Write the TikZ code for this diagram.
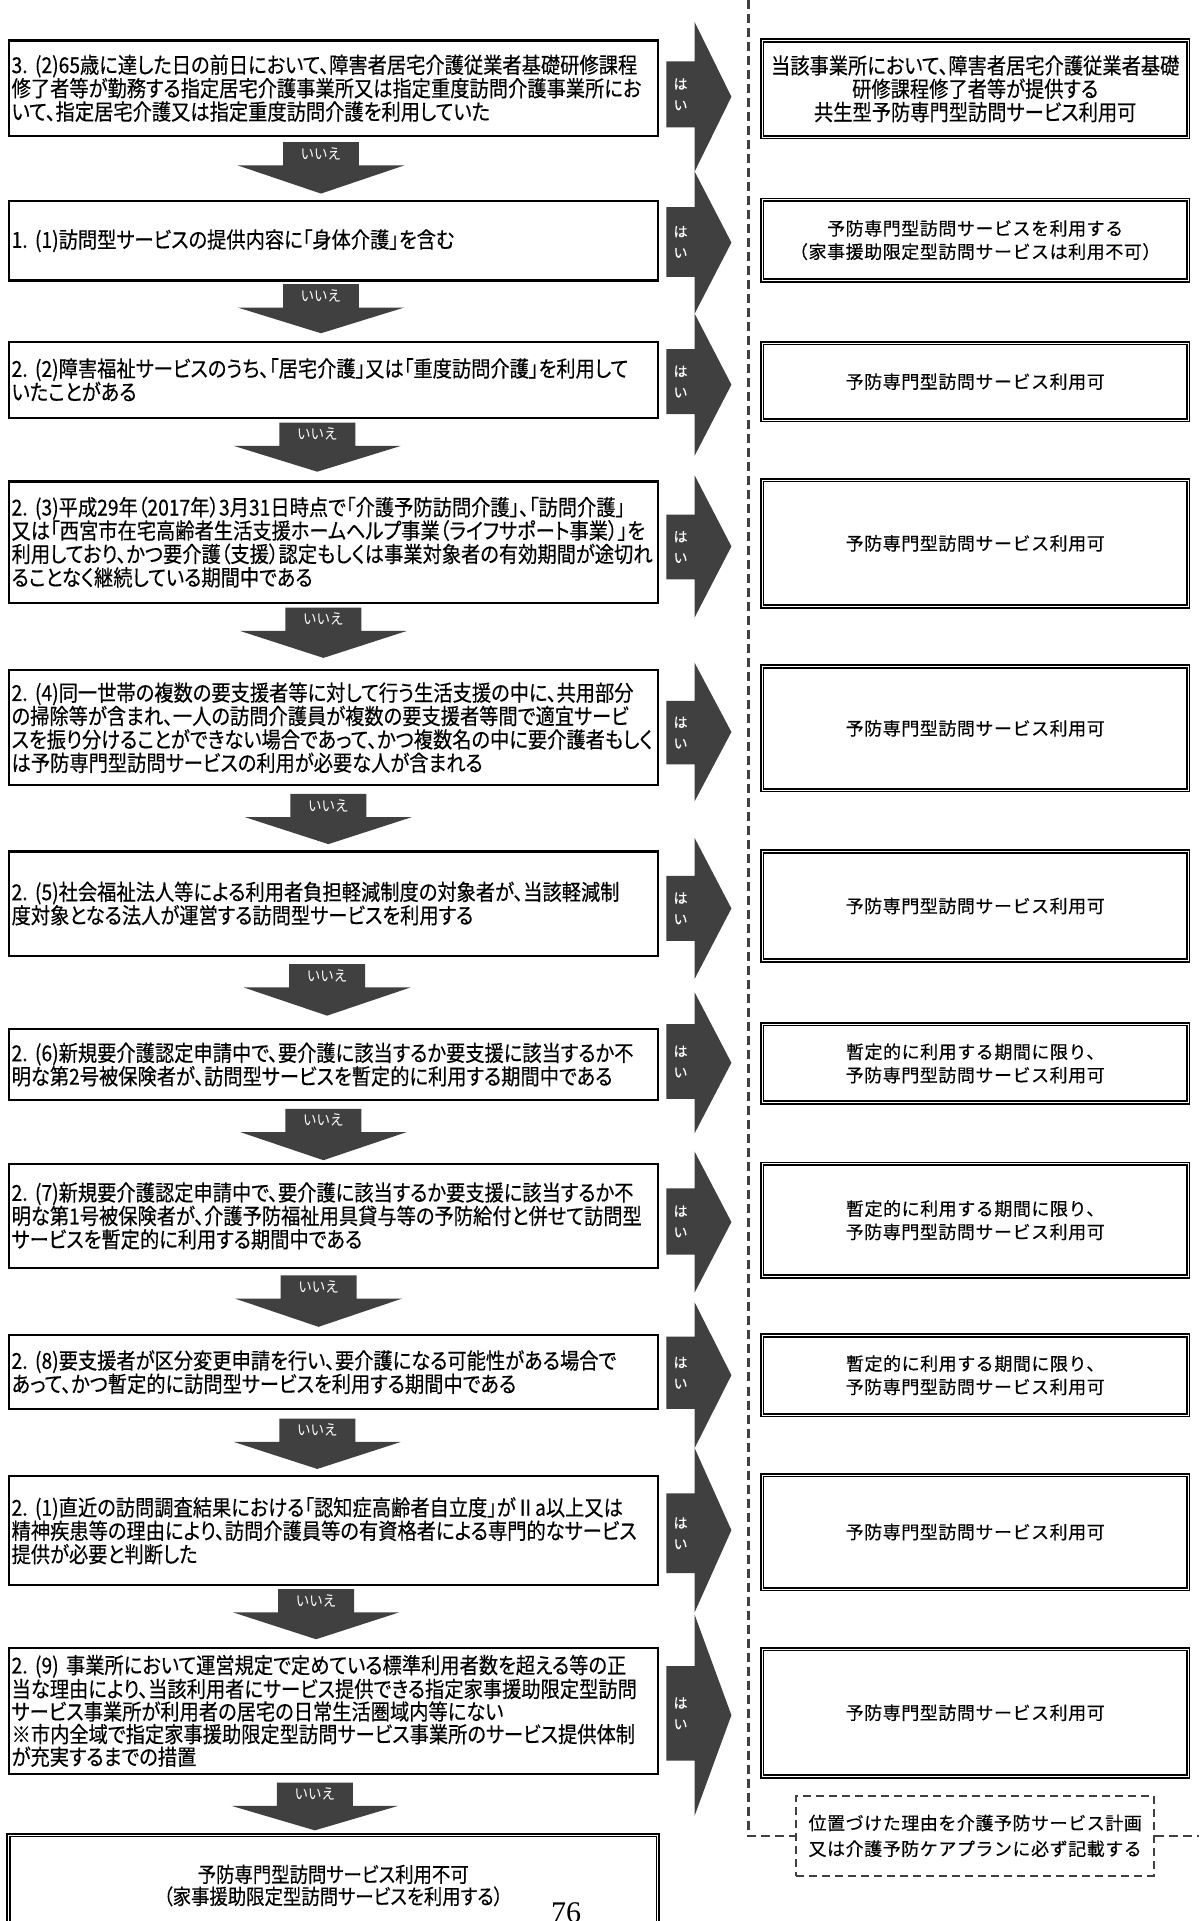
\documentclass[tikz,border=0pt]{standalone}
\usepackage{fontspec}
\newfontfamily\jpc[FakeStretch=0.875,FakeBold=0.35,RawFeature=+palt]{Noto Sans CJK JP}
\newfontfamily\jpg[LetterSpace=3,FakeBold=0.3]{Noto Sans CJK JP}
\newfontfamily\jpn[FakeStretch=0.9]{Noto Sans CJK JP}
\newfontfamily\numserif{Liberation Serif}
\definecolor{agray}{RGB}{64,64,64}
\tikzset{
  qbox/.style={draw=black, line width=2.2pt, fill=white, inner xsep=3pt, inner ysep=0pt,
    minimum width=649pt, text width=643pt, align=left,
    font=\jpc\fontsize{22pt}{23.4pt}\selectfont},
  rbox/.style={draw=black, line width=1.7pt, double=white, double distance=1pt, fill=white,
    inner sep=0pt, minimum width=426pt, text width=420pt, align=center,
    font=\jpg\fontsize{18pt}{23.3pt}\selectfont},
  endbox/.style={draw=black, line width=1.7pt, double=white, double distance=1pt, fill=white,
    inner sep=0pt, minimum width=649pt, text width=640pt, align=center,
    font=\jpc\fontsize{21pt}{22pt}\selectfont},
  notebox/.style={draw=agray, line width=2pt, dash pattern=on 8pt off 5pt, fill=white,
    inner sep=0pt, minimum width=357.6pt, minimum height=79.6pt, text width=350pt, align=center,
    font=\jpg\fontsize{18pt}{25.7pt}\selectfont},
  hailabel/.style={text=white, inner sep=0pt, align=center, font=\jpg\fontsize{14pt}{21pt}\selectfont},
  iielabel/.style={text=white, inner sep=0pt, font=\jpn\fontsize{15pt}{15pt}\selectfont},
  dline/.style={draw=agray, line width=2.4pt, dash pattern=on 9pt off 5pt},
}
% #1 name, #2 head top, #3 head bottom, #4 tab top, #5 tab bottom
\newcommand\haiarrow[5]{%
  \fill[agray] (544,#4) -- (567,#4) -- (567,#2) -- (597,{(#2+#3)/2}) -- (567,#3)
     -- (567,#5) -- (544,#5) -- cycle;
  \node[hailabel] (#1) at (555.5,{(#4+#5)/2}) {は\\い};}
% #1 name, #2 centre x, #3 top, #4 tip
\newcommand\iiearrow[4]{%
  \fill[agray] (#2-31,#3) -- (#2+31,#3) -- (#2+31,#3+19) -- (#2+68,#3+19) -- (#2,#4)
     -- (#2-68,#3+19) -- (#2-31,#3+19) -- cycle;
  \node[iielabel] (#1) at (#2,#3+9.5) {いいえ};}
\begin{document}
\begin{tikzpicture}[x=1.2247pt, y=-1.2247pt]
\useasboundingbox (0,0) rectangle (979,1568);
\fill[white] (0,0) rectangle (979,1568);

% ---------- question boxes (left) ----------
\node[qbox, minimum height=95.5pt] (q1) at (272,72) {3.~(2)65歳に達した日の前日において、障害者居宅介護従業者基礎研修課程\\修了者等が勤務する指定居宅介護事業所又は指定重度訪問介護事業所にお\\いて、指定居宅介護又は指定重度訪問介護を利用していた};
\node[qbox, minimum height=79.6pt] (q2) at (272,196.5) {1.~(1)訪問型サービスの提供内容に「身体介護」を含む};
\node[qbox, minimum height=75.9pt] (q3) at (272,310) {2.~(2)障害福祉サービスのうち、「居宅介護」又は「重度訪問介護」を利用して\\いたことがある};
\node[qbox, minimum height=121.2pt] (q4) at (272,442.5) {2.~(3)平成29年（2017年）3月31日時点で「介護予防訪問介護」、「訪問介護」\\又は「西宮市在宅高齢者生活支援ホームヘルプ事業（ライフサポート事業）」を\\利用しており、かつ要介護（支援）認定もしくは事業対象者の有効期間が途切れ\\ることなく継続している期間中である};
\node[qbox, minimum height=115.1pt] (q5) at (272,594) {2.~(4)同一世帯の複数の要支援者等に対して行う生活支援の中に、共用部分\\の掃除等が含まれ、一人の訪問介護員が複数の要支援者等間で適宜サービ\\スを振り分けることができない場合であって、かつ複数名の中に要介護者もしく\\は予防専門型訪問サービスの利用が必要な人が含まれる};
\node[qbox, minimum height=104.1pt] (q6) at (272,737.5) {2.~(5)社会福祉法人等による利用者負担軽減制度の対象者が、当該軽減制\\度対象となる法人が運営する訪問型サービスを利用する};
\node[qbox, minimum height=71pt] (q7) at (272,869) {2.~(6)新規要介護認定申請中で、要介護に該当するか要支援に該当するか不\\明な第2号被保険者が、訪問型サービスを暫定的に利用する期間中である};
\node[qbox, minimum height=104.1pt] (q8) at (272,992.5) {2.~(7)新規要介護認定申請中で、要介護に該当するか要支援に該当するか不\\明な第1号被保険者が、介護予防福祉用具貸与等の予防給付と併せて訪問型\\サービスを暫定的に利用する期間中である};
\node[qbox, minimum height=73.5pt] (q9) at (272,1120) {2.~(8)要支援者が区分変更申請を行い、要介護になる可能性がある場合で\\あって、かつ暫定的に訪問型サービスを利用する期間中である};
\node[qbox, minimum height=109pt] (q10) at (272,1249.5) {2.~(1)直近の訪問調査結果における「認知症高齢者自立度」がⅡa以上又は\\精神疾患等の理由により、訪問介護員等の有資格者による専門的なサービス\\提供が必要と判断した};
\node[qbox, minimum height=126.1pt, font=\jpc\fontsize{22pt}{22.6pt}\selectfont] (q11) at (272,1396.5) {2.~(9)~事業所において運営規定で定めている標準利用者数を超える等の正\\当な理由により、当該利用者にサービス提供できる指定家事援助限定型訪問\\サービス事業所が利用者の居宅の日常生活圏域内等にない\\※市内全域で指定家事援助限定型訪問サービス事業所のサービス提供体制\\が充実するまでの措置};
\node[endbox, minimum height=100.4pt] (q12) at (272,1539) {予防専門型訪問サービス利用不可\\（家事援助限定型訪問サービスを利用する）};
\node[font=\numserif\fontsize{30pt}{30pt}\selectfont, inner sep=0pt, anchor=north] (pageno) at (462,1553) {76};

% ---------- result boxes (right) ----------
\node[rbox, minimum height=96.8pt, font=\jpc\fontsize{22pt}{23.3pt}\selectfont] (r1) at (796,72.5) {当該事業所において、障害者居宅介護従業者基礎\\研修課程修了者等が提供する\\共生型予防専門型訪問サービス利用可};
\node[rbox, minimum height=80.8pt] (r2) at (796,196) {予防専門型訪問サービスを利用する\\（家事援助限定型訪問サービスは利用不可）};
\node[rbox, minimum height=77.2pt] (r3) at (796,311.5) {予防専門型訪問サービス利用可};
\node[rbox, minimum height=126.1pt] (r4) at (796,443.5) {予防専門型訪問サービス利用可};
\node[rbox, minimum height=123.7pt] (r5) at (796,594.5) {予防専門型訪問サービス利用可};
\node[rbox, minimum height=109pt] (r6) at (796,739.5) {予防専門型訪問サービス利用可};
\node[rbox, minimum height=78.4pt] (r7) at (796,868) {暫定的に利用する期間に限り、\\予防専門型訪問サービス利用可};
\node[rbox, minimum height=112.7pt] (r8) at (796,996) {暫定的に利用する期間に限り、\\予防専門型訪問サービス利用可};
\node[rbox, minimum height=79.6pt] (r9) at (796,1122.5) {暫定的に利用する期間に限り、\\予防専門型訪問サービス利用可};
\node[rbox, minimum height=113.9pt] (r10) at (796,1250.5) {予防専門型訪問サービス利用可};
\node[rbox, minimum height=127.4pt] (r11) at (796,1398) {予防専門型訪問サービス利用可};

% ---------- note and dashed divider ----------
\node[notebox] (note) at (796,1498.5) {位置づけた理由を介護予防サービス計画\\又は介護予防ケアプランに必ず記載する};
\coordinate (dtop) at (611,0);
\coordinate (dcorner) at (611,1498.5);
\coordinate (dright) at (979,1498.5);
\draw[dline] (dtop) -- (dcorner) -- (note.west);
\draw[dline] (note.east) -- (dright);

% ---------- "はい" arrows ----------
\haiarrow{h1}{18}{140}{50}{104}
\haiarrow{h2}{140}{256}{169}{226}
\haiarrow{h3}{256}{372}{285}{338}
\haiarrow{h4}{388}{504}{420}{473}
\haiarrow{h5}{541}{654}{572}{624}
\haiarrow{h6}{684}{799}{715}{768}
\haiarrow{h7}{810}{925}{836}{897}
\haiarrow{h8}{940}{1055}{970}{1024}
\haiarrow{h9}{1063}{1182}{1091}{1150}
\haiarrow{h10}{1182}{1316}{1219}{1284}
\haiarrow{h11}{1318}{1482}{1360}{1437}

% ---------- "いいえ" arrows ----------
\iiearrow{n1}{262}{116}{158}
\iiearrow{n2}{262}{232}{272}
\iiearrow{n3}{259}{345}{385}
\iiearrow{n4}{264}{496}{537}
\iiearrow{n5}{268}{648}{689}
\iiearrow{n6}{267}{787}{829}
\iiearrow{n7}{264}{905}{947}
\iiearrow{n8}{260}{1041}{1083}
\iiearrow{n9}{259}{1158}{1199}
\iiearrow{n10}{258}{1297}{1338}
\iiearrow{n11}{257}{1455}{1494}
\end{tikzpicture}
\end{document}
